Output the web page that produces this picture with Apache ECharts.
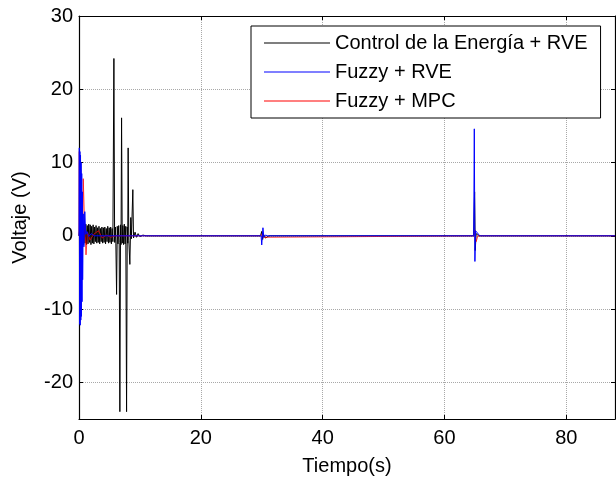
<!DOCTYPE html>
<html>
<head>
<meta charset="utf-8">
<script src="https://cdn.jsdelivr.net/npm/echarts@6/dist/echarts.min.js"></script>
<style>html,body{margin:0;padding:0;background:#fff}#c{width:616px;height:481px}</style>
</head>
<body>
<div id="c"></div>
<script>
// ---- data ----
var seriesNames = ['Control de la Energía + RVE', 'Fuzzy + RVE', 'Fuzzy + MPC'];
var xTicks = [0, 20, 40, 60, 80];
var yTicks = [-20, -10, 0, 10, 20, 30];

var blackT = [0,0.15,0.28,0.4,0.52,0.64,0.76,0.88,1.0,1.12,1.24,1.36,1.48,1.6,1.72,1.84,1.96,2.08,2.2,2.32,2.44,2.56,2.68,2.8,2.92,3.04,3.16,3.28,3.4,3.52,3.64,3.76,3.88,4.0,4.12,4.24,4.36,4.48,4.6,4.72,4.84,4.96,5.08,5.2,5.32,5.44,5.56,5.73,5.85,5.97,6.05,6.17,6.28,6.4,6.52,6.6,6.71,6.82,6.9,6.99,7.1,7.2,7.32,7.44,7.56,7.68,7.81,7.92,8.0,8.07,8.18,8.35,8.5,8.6,8.84,8.95,9.2,9.45,9.7,10.0,10.5,11,29.8,30.0,30.15,30.3,30.6,31.2,64.8,64.95,65.05,65.2,65.6,88];
var blackV = [0,1.2,-0.9,1.6,-1.1,1.7,-1.2,1.5,-1.0,1.6,-1.2,1.4,-1.1,1.6,-0.9,1.5,-1.2,1.3,-1.0,1.5,-1.1,1.2,-0.8,1.4,-1.0,1.1,-0.9,1.3,-1.1,1.0,-0.8,1.2,-1.0,1.1,-0.9,1.2,-1.1,1.0,-0.8,1.3,-1.0,1.1,-0.9,1.2,-1.1,1.0,-0.8,24.2,-0.9,1.2,-1.0,-8.0,1.3,-1.1,1.4,-0.9,-24.0,1.5,-1.2,16.1,-1.0,1.4,-1.2,1.6,-1.1,1.3,-24.0,1.2,-1.0,12.0,-0.6,-3.9,2.5,-0.4,6.3,-0.3,0.5,-0.2,0.3,-0.1,0.1,0,0,0.6,-0.5,0.2,-0.3,0,0,6.0,-2.0,0.3,0,0];

var blueT = [0,0.05,0.1,0.15,0.2,0.25,0.3,0.35,0.4,0.45,0.5,0.55,0.6,0.7,0.8,0.95,1.1,1.3,1.6,2.0,2.5,29.9,30.0,30.2,30.35,30.6,31,64.8,64.9,65.0,65.1,65.4,65.8,88];
var blueV = [0,12.0,-12.0,11.5,-12.2,11.0,-11.5,10.0,-11.0,8.5,-9.0,6.0,-6.0,3.0,-1.5,3.3,0.2,0.6,-0.1,0.3,0,0,-1.25,1.1,-0.2,0.1,0,0,14.6,-3.5,0.7,0.4,0,0];

var redT = [0,0.05,0.1,0.15,0.2,0.28,0.36,0.45,0.55,0.7,0.9,1.15,1.4,1.8,2.4,3.2,3.8,4.5,5.2,6.0,29.9,30.1,30.3,30.6,64.9,65.0,65.2,65.5,88];
var redV = [0,11.5,-11,10.5,-10,9,-8,6,-3,7.8,2.0,-2.6,0.5,-0.6,0.2,0.7,-0.3,0.1,-0.2,0,0,0.3,-0.2,0,0,0.8,-0.8,0,0];

function zip(t, v) { return t.map(function (x, i) { return [x, v[i]]; }); }

var FONT = 'Liberation Sans, Arial, Helvetica, sans-serif';
var chart = echarts.init(document.getElementById('c'), null, {renderer: 'canvas'});

var gridLine = {show: true, lineStyle: {color: '#a8a8a8', type: 'dotted', width: 1}};
var frameLine = {show: true, onZero: false, lineStyle: {color: '#000', width: 1.2}};
var tickIn = {show: true, inside: true, length: 4, lineStyle: {color: '#000', width: 1}};

chart.setOption({
  animation: false,
  backgroundColor: '#fff',
  textStyle: {fontFamily: FONT},
  grid: {left: 79, top: 16, right: 1, bottom: 54, containLabel: false},
  legend: {
    orient: 'vertical',
    left: 251, top: 26,
    padding: [7, 13, 7, 13],
    itemGap: 9,
    icon: 'rect',
    itemWidth: 66, itemHeight: 1,
    backgroundColor: '#fff',
    borderColor: '#000', borderWidth: 1,
    textStyle: {fontSize: 20, color: '#000', fontFamily: FONT},
    data: seriesNames
  },
  xAxis: [{
    type: 'value', min: 0, max: 88, interval: 20, position: 'bottom',
    axisLine: frameLine, axisTick: tickIn, splitLine: gridLine,
    axisLabel: {fontSize: 20, color: '#000', margin: 9, showMaxLabel: false, fontFamily: FONT,
      formatter: function (v) { return xTicks.indexOf(v) >= 0 ? String(v) : ''; }},
    name: 'Tiempo(s)', nameLocation: 'middle', nameGap: 37,
    nameTextStyle: {fontSize: 20, color: '#000', fontFamily: FONT}
  }, {
    type: 'value', min: 0, max: 88, interval: 20, position: 'top',
    axisLine: frameLine, axisTick: tickIn, splitLine: {show: false},
    axisLabel: {show: false}
  }],
  yAxis: [{
    type: 'value', min: -25, max: 30, position: 'left',
    axisLine: frameLine, axisTick: tickIn, splitLine: gridLine,
    axisLabel: {fontSize: 20, color: '#000', margin: 6, showMinLabel: false, fontFamily: FONT,
      formatter: function (v) { return yTicks.indexOf(v) >= 0 ? String(v) : ''; }},
    name: 'Voltaje (V)', nameLocation: 'middle', nameGap: 49,
    nameTextStyle: {fontSize: 20, color: '#000', fontFamily: FONT}
  }, {
    type: 'value', min: -25, max: 30, position: 'right',
    axisLine: frameLine, axisTick: tickIn, splitLine: {show: false},
    axisLabel: {show: false}
  }],
  series: [
    {name: seriesNames[0], type: 'line', data: zip(blackT, blackV), symbol: 'none', showSymbol: false, z: 2,
     color: '#000', lineStyle: {color: '#000', width: 1}},
    {name: seriesNames[1], type: 'line', data: zip(blueT, blueV), symbol: 'none', showSymbol: false, z: 4,
     color: '#0000ff', lineStyle: {color: '#0000ff', width: 1}},
    {name: seriesNames[2], type: 'line', data: zip(redT, redV), symbol: 'none', showSymbol: false, z: 3,
     color: '#ff0000', lineStyle: {color: '#ff0000', width: 1, opacity: 0.75}}
  ]
});
</script>
</body>
</html>
